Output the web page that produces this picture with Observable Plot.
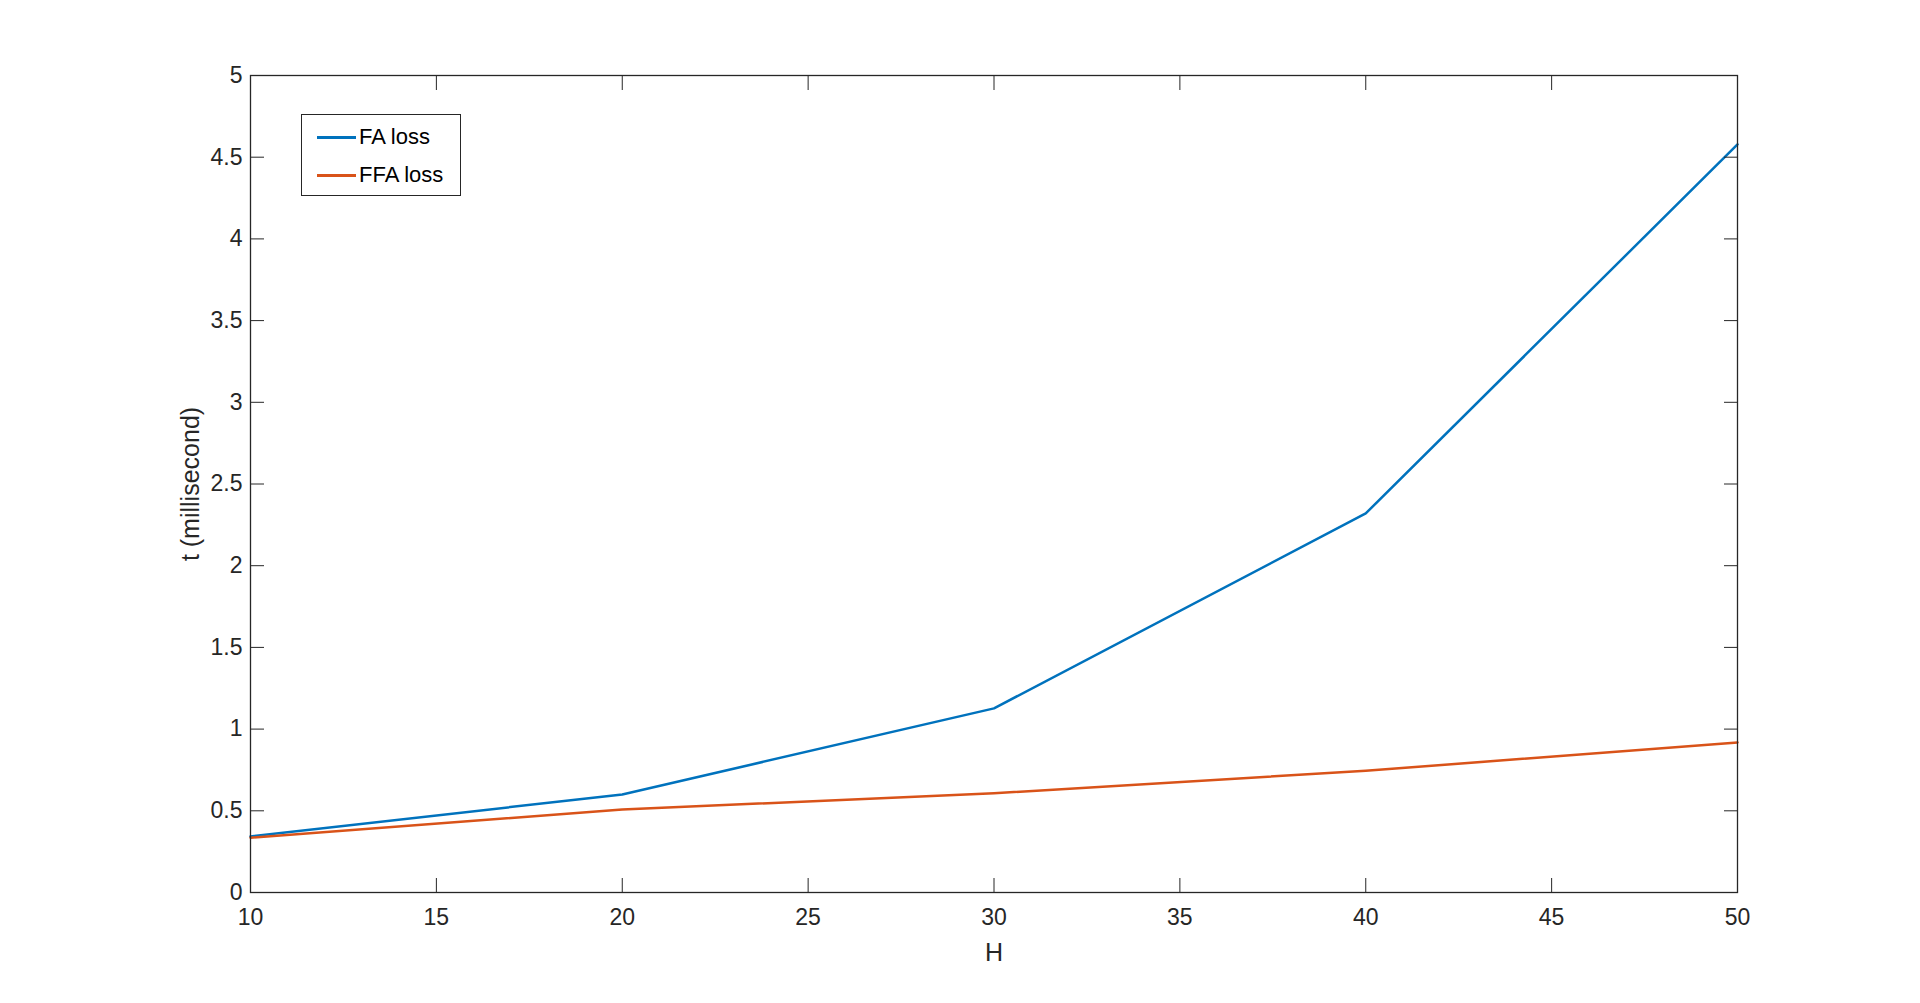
<!DOCTYPE html>
<html>
<head>
<meta charset="utf-8">
<script src="https://cdn.jsdelivr.net/npm/d3@7"></script>
<script src="https://cdn.jsdelivr.net/npm/@observablehq/plot@0.6"></script>
<style>
  html, body { margin: 0; padding: 0; background: #fff; }
  #wrap { position: relative; width: 1920px; height: 1003px; }
  #wrap svg { font-family: "Liberation Sans", Arial, Helvetica, sans-serif; }
  #wrap svg g[aria-label="x-axis tick label"], #wrap svg g[aria-label="y-axis tick label"] { font-size: 23px !important; }
  #wrap svg g[aria-label="x-axis label"], #wrap svg g[aria-label="y-axis label"] { font-size: 25px !important; }
  #legend {
    position: absolute; left: 301px; top: 114px; width: 158px; height: 80px;
    border: 1px solid #262626; background: #fff;
    font-family: "Liberation Sans", Arial, Helvetica, sans-serif; font-size: 22px; color: #000;
  }
  .row { position: absolute; left: 15px; height: 26px; display: flex; align-items: center; }
  .sw { width: 39px; height: 3px; margin-right: 3px; }
</style>
</head>
<body>
<div id="wrap"></div>
<script>
const H = [10, 20, 30, 40, 50];
const faLoss = [0.343, 0.60, 1.127, 2.32, 4.578];
const ffaLoss = [0.335, 0.508, 0.607, 0.745, 0.918];
const seriesNames = ["FA loss", "FFA loss"];
const seriesColors = ["#0072BD", "#D95319"];
const xTicks = [10, 15, 20, 25, 30, 35, 40, 45, 50];
const yTicks = [0, 0.5, 1, 1.5, 2, 2.5, 3, 3.5, 4, 4.5, 5];

const rows = [];
H.forEach((h, i) => {
  rows.push({H: h, t: faLoss[i], s: seriesNames[0]});
  rows.push({H: h, t: ffaLoss[i], s: seriesNames[1]});
});

const axisColor = "#262626";
const font = "'Liberation Sans', Arial, Helvetica, sans-serif";

const chart = Plot.plot({
  width: 1920,
  height: 1003,
  marginLeft: 250,
  marginRight: 183,
  marginTop: 75,
  marginBottom: 111,
  style: {fontFamily: font, fontSize: "23px", color: axisColor, background: "#fff"},
  x: {domain: [10, 50]},
  y: {domain: [0, 5]},
  color: {domain: seriesNames, range: seriesColors},
  marks: [
    Plot.line(rows, {x: "H", y: "t", stroke: "s", strokeWidth: 2.5}),
    Plot.frame({stroke: axisColor, strokeWidth: 1.3}),
    // inward ticks on all four sides
    Plot.axisX(xTicks, {anchor: "bottom", tickSize: -14, tickFormat: () => "", label: null, stroke: axisColor}),
    Plot.axisX(xTicks, {anchor: "top", tickSize: -14, tickFormat: () => "", label: null, stroke: axisColor}),
    Plot.axisY(yTicks, {anchor: "left", tickSize: -14, tickFormat: () => "", label: null, stroke: axisColor}),
    Plot.axisY(yTicks, {anchor: "right", tickSize: -14, tickFormat: () => "", label: null, stroke: axisColor}),
    // tick labels and axis titles
    Plot.axisX(xTicks, {anchor: "bottom", tickSize: 0, tickPadding: 16, fontSize: 23, fill: axisColor,
      label: "H", labelAnchor: "center", labelArrow: "none", labelOffset: 68}),
    Plot.axisY(yTicks, {anchor: "left", tickSize: 0, tickPadding: 8, fontSize: 23, fill: axisColor,
      tickFormat: d => String(d),
      label: "t (millisecond)", labelAnchor: "center", labelArrow: "none", labelOffset: 69})
  ]
});
const wrap = document.getElementById("wrap");
wrap.appendChild(chart);

const legend = document.createElement("div");
legend.id = "legend";
seriesNames.forEach((name, i) => {
  const r = document.createElement("div");
  r.className = "row";
  r.style.top = (i === 0 ? 9 : 47) + "px";
  const sw = document.createElement("div");
  sw.className = "sw";
  sw.style.background = seriesColors[i];
  const tx = document.createElement("span");
  tx.textContent = name;
  r.appendChild(sw); r.appendChild(tx);
  legend.appendChild(r);
});
wrap.appendChild(legend);
</script>
</body>
</html>
